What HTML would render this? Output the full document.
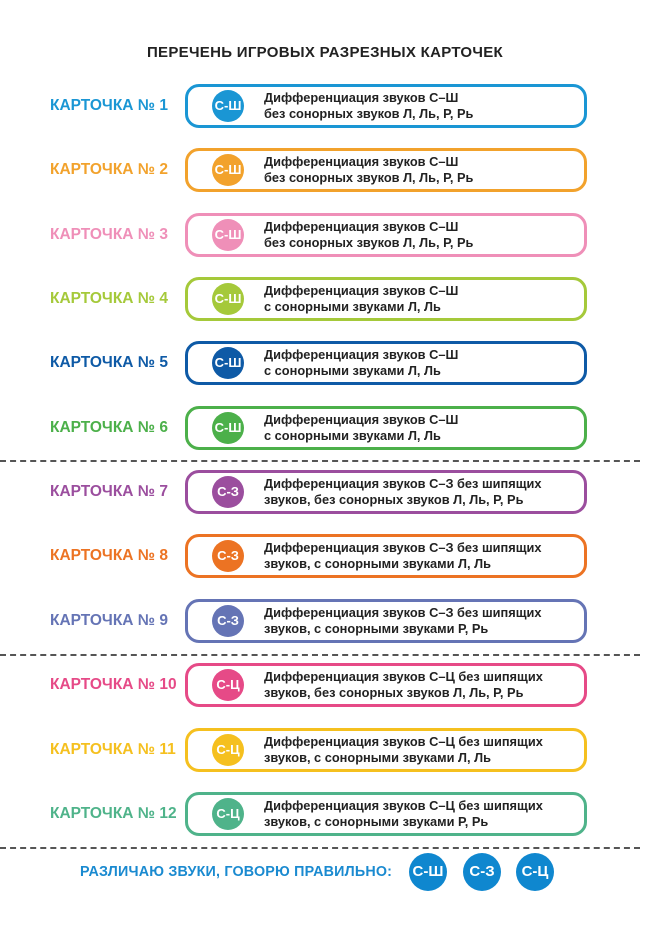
<!DOCTYPE html><html><head><meta charset="utf-8"><style>
body{margin:0;width:650px;height:928px;background:#fff;position:relative;font-family:"Liberation Sans","DejaVu Sans",sans-serif;font-weight:bold;overflow:hidden}
.t{position:absolute;top:44px;left:0;width:650px;text-align:center;font-size:15px;color:#222;letter-spacing:0.3px}
.l{position:absolute;left:50px;font-size:15.5px;line-height:18px}
.b{position:absolute;left:185px;width:396px;height:38px;border:3px solid;border-radius:14px}
.c{position:absolute;left:24px;top:3px;width:32px;height:32px;border-radius:50%;color:#fff;font-size:13px;line-height:32px;text-align:center}
.x{position:absolute;left:76px;top:3px;font-size:12.8px;line-height:16px;color:#222}
.d{position:absolute;left:0;width:640px;border-top:2px dashed #555}
.f{position:absolute;top:864px;left:80px;font-size:14.3px;color:#1a8ad0;letter-spacing:0.2px}
.bc{position:absolute;top:853px;width:38px;height:38px;border-radius:50%;background:#0f87cf;color:#fff;font-size:15px;line-height:38px;text-align:center}
</style></head><body>
<div class="t">ПЕРЕЧЕНЬ ИГРОВЫХ РАЗРЕЗНЫХ КАРТОЧЕК</div>
<div id="r"></div>
<div class="d" style="top:460px"></div>
<div class="d" style="top:654px"></div>
<div class="d" style="top:847px"></div>
<div class="f">РАЗЛИЧАЮ ЗВУКИ, ГОВОРЮ ПРАВИЛЬНО:</div>
<div class="bc" style="left:409px">С-Ш</div>
<div class="bc" style="left:463px">С-З</div>
<div class="bc" style="left:516px">С-Ц</div>
<script>
var cols=["#1a96d4","#f2a22c","#ef8fb8","#a5c93a","#0e5aa6","#4cb04a","#9b4e9e","#ec7323","#6574b5","#e64a87","#f5c01f","#4fb38a"];
var ab=["С-Ш","С-Ш","С-Ш","С-Ш","С-Ш","С-Ш","С-З","С-З","С-З","С-Ц","С-Ц","С-Ц"];
var tx=["Дифференциация звуков С–Ш<br>без сонорных звуков Л, Ль, Р, Рь","Дифференциация звуков С–Ш<br>без сонорных звуков Л, Ль, Р, Рь","Дифференциация звуков С–Ш<br>без сонорных звуков Л, Ль, Р, Рь",
"Дифференциация звуков С–Ш<br>с сонорными звуками Л, Ль","Дифференциация звуков С–Ш<br>с сонорными звуками Л, Ль","Дифференциация звуков С–Ш<br>с сонорными звуками Л, Ль",
"Дифференциация звуков С–З без шипящих<br>звуков, без сонорных звуков Л, Ль, Р, Рь","Дифференциация звуков С–З без шипящих<br>звуков, с сонорными звуками Л, Ль","Дифференциация звуков С–З без шипящих<br>звуков, с сонорными звуками Р, Рь",
"Дифференциация звуков С–Ц без шипящих<br>звуков, без сонорных звуков Л, Ль, Р, Рь","Дифференциация звуков С–Ц без шипящих<br>звуков, с сонорными звуками Л, Ль","Дифференциация звуков С–Ц без шипящих<br>звуков, с сонорными звуками Р, Рь"];
var h="";
for(var i=0;i<12;i++){var cy=106+i*64.35;
h+='<div class="l" style="top:'+(cy-9)+'px;color:'+cols[i]+'">КАРТОЧКА № '+(i+1)+'</div>';
h+='<div class="b" style="top:'+(cy-22)+'px;border-color:'+cols[i]+'"><div class="c" style="background:'+cols[i]+'">'+ab[i]+'</div><div class="x">'+tx[i]+'</div></div>';}
document.getElementById("r").innerHTML=h;
</script>
</body></html>
